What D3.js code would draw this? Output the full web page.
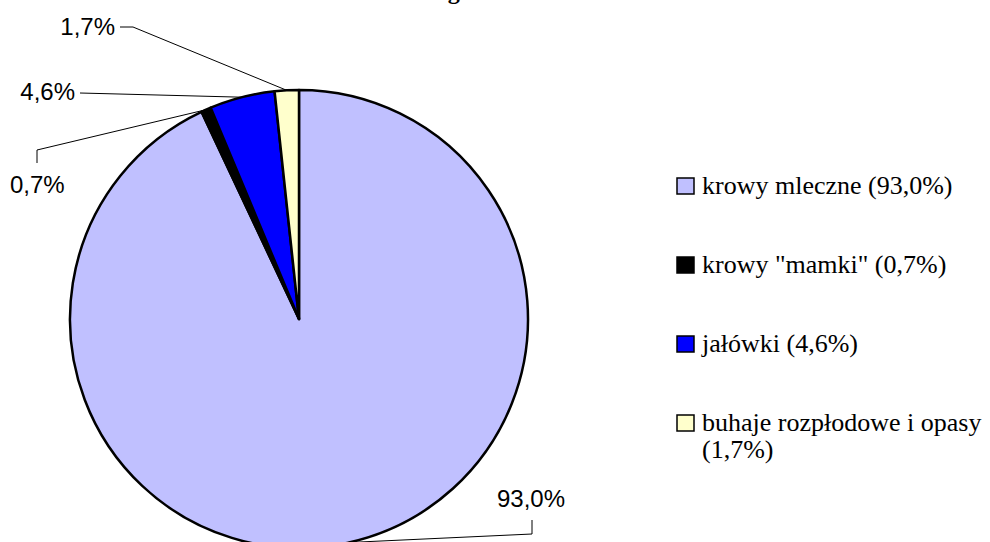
<!DOCTYPE html>
<html>
<head>
<meta charset="utf-8">
<script src="https://cdn.jsdelivr.net/npm/d3@7"></script>
<style>
  html, body { margin: 0; padding: 0; background: #fff; }
  svg { display: block; }
</style>
</head>
<body>
<div id="chart"></div>
<script>
// ── Data ─────────────────────────────────────────────
const categories = ["krowy mleczne", "krowy \"mamki\"", "jałówki", "buhaje rozpłodowe i opasy"];
const shares     = [93.0, 0.7, 4.6, 1.7];
const colors     = ["#C0C0FF", "#000000", "#0000FF", "#FFFFCC"];
const titleText  = "według stanu w 2010 r.";

// label layout: text anchor point, anchor side, and leader elbow points
const labelLayout = [
    { x: 497, y: 507, anchor: "start", elbow: [[532, 520], [532, 534]] },
    { x: 10,  y: 193, anchor: "start", elbow: [[37, 163], [37, 150]] },
    { x: 75,  y: 100, anchor: "end",   elbow: [[80, 93]] },
    { x: 115, y: 35,  anchor: "end",   elbow: [[120, 27], [133, 27]] }
];

const W = 990, H = 542;
const cx = 299, cy = 319, R = 229;
const fmt = v => v.toFixed(1).replace(".", ",") + "%";

const svg = d3.select("#chart").append("svg").attr("width", W).attr("height", H);

// Title (almost entirely above the visible frame, as in the source)
svg.append("text")
    .attr("x", 503).attr("y", -1)
    .attr("text-anchor", "middle")
    .attr("font-family", "'Liberation Serif', 'Times New Roman', serif")
    .attr("font-weight", "bold").attr("font-size", 24)
    .text(titleText);

// ── Pie ──────────────────────────────────────────────
const data = categories.map((c, i) => ({ name: c, value: shares[i], color: colors[i] }));
const pie  = d3.pie().sort(null).value(d => d.value);
const arcs = pie(data);
const arc  = d3.arc().innerRadius(0).outerRadius(R);
const edge = d3.arc().innerRadius(R).outerRadius(R);

const g = svg.append("g").attr("transform", `translate(${cx},${cy})`);
g.selectAll("path.slice")
    .data(arcs)
    .enter().append("path")
    .attr("class", "slice")
    .attr("d", arc)
    .attr("fill", d => d.data.color)
    .attr("stroke", "#000")
    .attr("stroke-width", 2.5)
    .attr("stroke-linejoin", "round");

// ── Data labels with leader lines ────────────────────
const labelFont = "'Liberation Sans', Arial, sans-serif";
arcs.forEach((a, i) => {
    const L = labelLayout[i];
    const [ex, ey] = edge.centroid(a);
    const pts = L.elbow.concat([[cx + ex, cy + ey]]);
    svg.append("path")
        .attr("d", d3.line()(pts))
        .attr("fill", "none")
        .attr("stroke", "#000")
        .attr("stroke-width", 1);
    svg.append("text")
        .attr("x", L.x).attr("y", L.y)
        .attr("text-anchor", L.anchor)
        .attr("font-family", labelFont)
        .attr("font-size", 24)
        .attr("fill", "#000")
        .text(fmt(a.data.value));
});

// ── Legend ───────────────────────────────────────────
const legX = 677, legY0 = 194, legStep = 79, lineH = 27, maxW = 282;
const legend = svg.append("g");
data.forEach((d, i) => {
    const y = legY0 + i * legStep;
    legend.append("rect")
        .attr("x", legX).attr("y", y - 16)
        .attr("width", 17).attr("height", 16)
        .attr("fill", d.color)
        .attr("stroke", "#000").attr("stroke-width", 1.5);
    const t = legend.append("text")
        .attr("x", legX + 25).attr("y", y)
        .attr("font-family", "'Liberation Serif', 'Times New Roman', serif")
        .attr("font-size", 26)
        .attr("fill", "#000");
    // simple word wrap
    const words = `${d.name} (${fmt(d.value)})`.split(" ");
    let line = [], tspan = t.append("tspan").attr("x", legX + 25).attr("dy", 0);
    words.forEach(w => {
        line.push(w);
        tspan.text(line.join(" "));
        if (tspan.node().getComputedTextLength() > maxW && line.length > 1) {
            line.pop();
            tspan.text(line.join(" "));
            line = [w];
            tspan = t.append("tspan").attr("x", legX + 25).attr("dy", lineH).text(w);
        }
    });
});
</script>
</body>
</html>
